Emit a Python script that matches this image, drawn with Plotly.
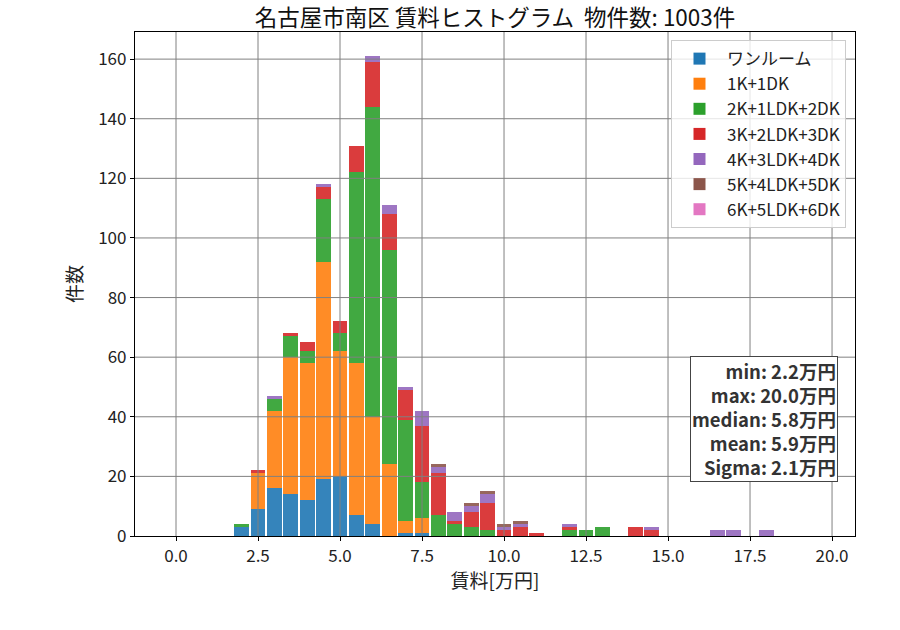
import plotly.graph_objects as go

# bin centres (万円), 0.5 wide bins
centers = [2.0, 2.5, 3.0, 3.5, 4.0, 4.5, 5.0, 5.5, 6.0, 6.5, 7.0, 7.5, 8.0, 8.5, 9.0, 9.5,
           10.0, 10.5, 11.0, 11.5, 12.0, 12.5, 13.0, 13.5, 14.0, 14.5, 15.0, 15.5, 16.0,
           16.5, 17.0, 17.5, 18.0]

one_room = [3, 9, 16, 14, 12, 19, 20, 7, 4, 0, 1, 1, 0, 0, 0, 0, 0, 0, 0, 0, 0, 0, 0, 0, 0,
            0, 0, 0, 0, 0, 0, 0, 0]
k1 = [0, 12, 26, 46, 46, 73, 42, 51, 36, 24, 4, 5, 0, 0, 0, 0, 0, 0, 0, 0, 0, 0, 0, 0, 0,
      0, 0, 0, 0, 0, 0, 0, 0]
k2 = [1, 0, 4, 7, 4, 21, 6, 64, 104, 72, 34, 12, 7, 4, 3, 2, 0, 0, 0, 0, 2, 2, 3, 0, 0,
      0, 0, 0, 0, 0, 0, 0, 0]
k3 = [0, 1, 0, 1, 3, 4, 4, 9, 15, 12, 10, 19, 14, 1, 5, 9, 2, 3, 1, 0, 1, 0, 0, 0, 3,
      2, 0, 0, 0, 0, 0, 0, 0]
k4 = [0, 0, 1, 0, 0, 1, 0, 0, 2, 3, 1, 5, 2, 3, 2, 3, 1, 1, 0, 0, 1, 0, 0, 0, 0,
      1, 0, 0, 0, 2, 2, 0, 2]
k5 = [0, 0, 0, 0, 0, 0, 0, 0, 0, 0, 0, 0, 1, 0, 1, 1, 1, 1, 0, 0, 0, 0, 0, 0, 0,
      0, 0, 0, 0, 0, 0, 0, 0]
k6 = [0] * 33

names = ["ワンルーム", "1K+1DK", "2K+1LDK+2DK", "3K+2LDK+3DK", "4K+3LDK+4DK", "5K+4LDK+5DK", "6K+5LDK+6DK"]
series = [one_room, k1, k2, k3, k4, k5, k6]
colors = ["#1f77b4", "#ff7f0e", "#2ca02c", "#d62728", "#9467bd", "#8c564b", "#e377c2"]

x_ticks = [0.0, 2.5, 5.0, 7.5, 10.0, 12.5, 15.0, 17.5, 20.0]
y_ticks = [0, 20, 40, 60, 80, 100, 120, 140, 160]

stats = "min: 2.2万円<br>max: 20.0万円<br>median: 5.8万円<br>mean: 5.9万円<br>Sigma: 2.1万円"

font = "Noto Sans CJK JP"

fig = go.Figure()
for i in range(len(names)):
    fig.add_trace(go.Bar(x=centers, y=series[i], name=names[i], width=0.45,
                         marker=dict(color=colors[i], opacity=0.9, line=dict(width=0)),
                         legendgroup=names[i]))

# matplotlib draws the grid over the bars
shapes = []
for t in x_ticks:
    shapes.append(dict(type="line", xref="x", yref="paper", x0=t, x1=t, y0=0, y1=1,
                       line=dict(color="#808080", width=1), layer="above"))
for t in y_ticks[1:]:
    shapes.append(dict(type="line", xref="paper", yref="y", x0=0, x1=1, y0=t, y1=t,
                       line=dict(color="#808080", width=1), layer="above"))

fig.update_layout(
    width=900, height=630,
    barmode="stack",
    bargap=0,
    plot_bgcolor="white", paper_bgcolor="white",
    font=dict(family=font, size=17, color="#222222"),
    margin=dict(l=135, r=45, t=32, b=94),
    title=dict(text="名古屋市南区 賃料ヒストグラム  物件数: 1003件", x=0.55, xanchor="center",
               y=0.972, yanchor="middle", font=dict(size=22.5, color="#111111")),
    xaxis=dict(range=[-1.25, 20.7], tickvals=x_ticks, ticktext=["%.1f" % t for t in x_ticks],
               showgrid=False, zeroline=False, showline=True, mirror=True, linecolor="black",
               linewidth=1.2, ticks="outside", ticklen=4, tickcolor="black",
               title=dict(text="賃料[万円]", font=dict(size=19), standoff=4)),
    yaxis=dict(range=[0, 169.1], tickvals=y_ticks, showgrid=False, zeroline=False,
               showline=True, mirror=True, linecolor="black", linewidth=1.2,
               ticks="outside", ticklen=4, tickcolor="black",
               title=dict(text="件数", font=dict(size=19), standoff=10)),
    legend=dict(x=0.9875, xanchor="right", y=0.984, yanchor="top", bgcolor="rgba(255,255,255,0.8)",
                bordercolor="#cccccc", borderwidth=1, font=dict(size=17), tracegroupgap=7,
                traceorder="normal", itemwidth=45),
    shapes=shapes,
    annotations=[dict(text="<b>" + stats + "</b>", xref="paper", yref="paper", x=0.976, y=0.107,
                      xanchor="right", yanchor="bottom", align="right", showarrow=False,
                      font=dict(size=18.5, color="#333333"), bgcolor="white",
                      bordercolor="#444444", borderwidth=1, borderpad=1)],
)

# page has a default 8px body margin; drop it so the figure sits at the top-left corner
fig.write_html("out.html", config={"displayModeBar": False},
               post_script="document.body.style.margin='0px';")
